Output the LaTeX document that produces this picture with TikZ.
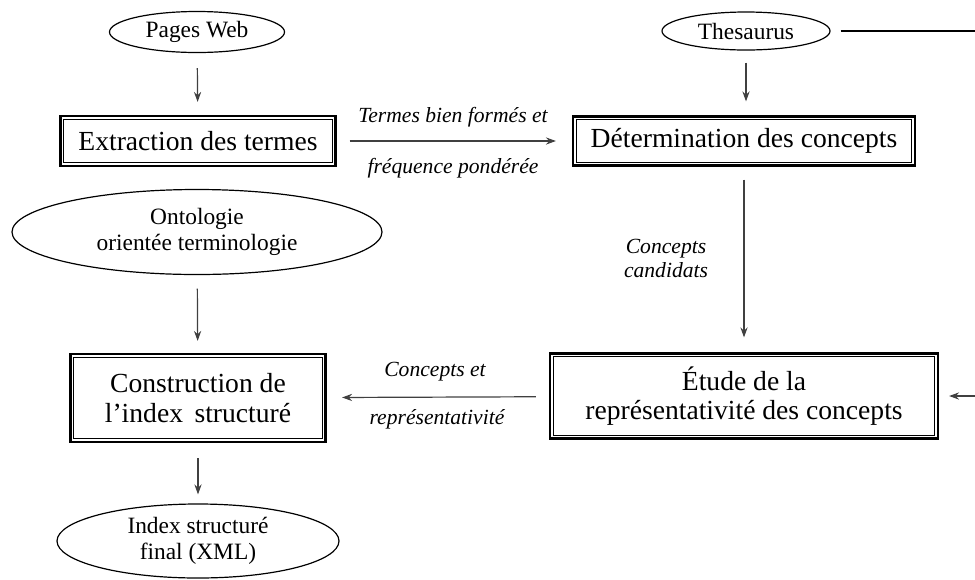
\documentclass[tikz,border=0pt]{standalone}
\usepackage{fontspec}
\setmainfont{Liberation Serif}
\usetikzlibrary{arrows.meta,shapes.geometric}
\newcommand{\boxsz}{\fontsize{13.8}{14.6}\selectfont}
\newcommand{\ovalsz}{\fontsize{11.7}{12.8}\selectfont}
\newcommand{\labsz}{\fontsize{10.8}{12}\selectfont\itshape}
\tikzset{
	oval/.style={draw, ellipse, line width=0.6pt, align=center, inner sep=0pt, font=\ovalsz},
	dbox/.style={draw, line width=1.1pt, align=center, inner sep=0pt, font=\boxsz,
		append after command={\pgfextra{\draw[line width=0.5pt] ([shift={(2.1pt,2.1pt)}]\tikzlastnode.south west) rectangle ([shift={(-2.1pt,-2.1pt)}]\tikzlastnode.north east);}}},
	arr/.style={draw=black!75, line width=0.6pt, -{Stealth[length=5pt,width=3.6pt]}},
	lab/.style={align=center, font=\labsz}
}
\begin{document}
\begin{tikzpicture}[x=0.5pt, y=-0.5pt]
		\useasboundingbox (0,0) rectangle (975,579);
		% sources
		\node[oval, minimum width=87.5pt, minimum height=20.5pt] (pages) at (197,32) {Pages Web};
		\node[oval, minimum width=84pt, minimum height=19pt] (thes) at (746,31) {Thesaurus};
		\coordinate (thesout) at (975,31);
		\coordinate (etudein) at (975,396);
		% traitements
		\node[dbox, minimum width=137.5pt, minimum height=25pt] (extr) at (198,141) {Extraction des termes};
		\node[dbox, minimum width=171pt, minimum height=24.5pt] (determ) at (744,141) {D\'etermination des concepts};
		\node[oval, minimum width=185pt, minimum height=42.5pt] (onto) at (197,232) {Ontologie\\orient\'ee terminologie};
		\node[dbox, minimum width=127.5pt, minimum height=44pt] (constr) at (198,398) {Construction de\\l'index\, structur\'e};
		\node[dbox, minimum width=194pt, minimum height=42.5pt] (etude) at (744,396) {\'Etude de la\\repr\'esentativit\'e des concepts};
		\node[oval, minimum width=141pt, minimum height=37pt] (index) at (198,541) {Index structur\'e\\final (XML)};
		% liens
		\draw[arr, shorten <=7.5pt, shorten >=6.5pt] (pages) -- (extr);
		\draw[arr, shorten <=6pt, shorten >=7pt] (thes) -- (thes |- determ.north);
		\draw[arr, shorten <=6.5pt, shorten >=8pt] (extr) -- (determ);
		\draw[arr, shorten <=6.5pt, shorten >=7.5pt] (determ) -- (etude);
		\draw[arr, shorten <=6.75pt, shorten >=6pt] (onto) -- (constr);
		\draw[arr, shorten <=6.5pt, shorten >=7.75pt] (etude) -- (constr);
		\draw[arr, shorten <=7.5pt, shorten >=4.5pt] (constr) -- (index);
		\draw[line width=0.6pt, shorten <=5pt] (thes) -- (thesout);
		\draw[arr, shorten >=5pt] (etudein) -- (etude);
		% etiquettes
		\node[lab] (termes) at (453,117) {Termes bien form\'es et};
		\node[lab] (freq) at (453,168) {fr\'equence pond\'er\'ee};
		\node[lab] (candid) at (666,258) {Concepts\\candidats};
		\node[lab] (conc) at (435,372) {Concepts et};
		\node[lab] (repr) at (437,419) {repr\'esentativit\'e};
\end{tikzpicture}
\end{document}
